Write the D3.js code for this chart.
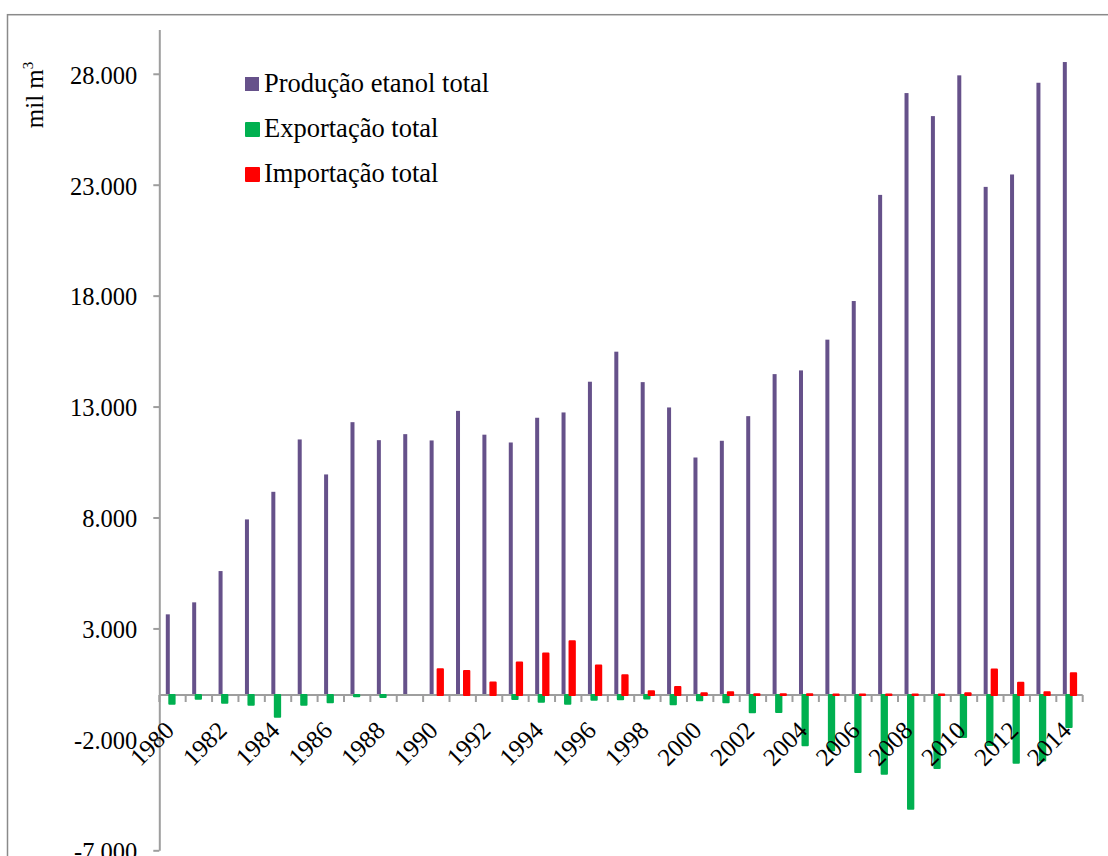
<!DOCTYPE html>
<html>
<head>
<meta charset="utf-8">
<script src="https://cdn.jsdelivr.net/npm/d3@7"></script>
<style>
  body { margin: 0; background: #fff; }
  svg { display: block; font-family: "Liberation Serif", "Times New Roman", serif; }
</style>
</head>
<body>
<div id="chart"></div>
<script>
const years = [1980, 1981, 1982, 1983, 1984, 1985, 1986, 1987, 1988, 1989,
  1990, 1991, 1992, 1993, 1994, 1995, 1996, 1997, 1998, 1999,
  2000, 2001, 2002, 2003, 2004, 2005, 2006, 2007, 2008, 2009,
  2010, 2011, 2012, 2013, 2014];
const xTickLabels = [1980, 1982, 1984, 1986, 1988, 1990, 1992, 1994, 1996, 1998,
  2000, 2002, 2004, 2006, 2008, 2010, 2012, 2014];
// mil m3
const producao = [3635, 4176, 5586, 7914, 9158, 11518, 9941, 12297, 11486, 11757,
  11473, 12806, 11733, 11381, 12496, 12735, 14120, 15474, 14102, 12960,
  10704, 11458, 12568, 14463, 14630, 16016, 17757, 22541, 27130, 26092,
  27929, 22902, 23461, 27595, 28529];
const exportacao = [-390, -165, -345, -435, -975, -435, -330, -60, -95, 0,
  0, 0, 0, -175, -300, -400, -210, -194, -162, -420,
  -239, -329, -780, -767, -2270, -2495, -3475, -3547, -5126, -3294,
  -1895, -2250, -3051, -2947, -1444];
const importacao = [0, 0, 0, 0, 0, 0, 0, 0, 0, 0,
  1160, 1083, 560, 1462, 1868, 2423, 1327, 889, 167, 361,
  77, 122, 32, 30, 30, 20, 20, 20, 20, 20,
  77, 1150, 555, 125, 979];
const yTicks = [-7000, -2000, 3000, 8000, 13000, 18000, 23000, 28000];
const seriesNames = ["Produção etanol total", "Exportação total", "Importação total"];
const seriesColors = ["#66518a", "#00b050", "#ff0000"];

const width = 1108, height = 856;
const plot = { l: 159.3, r: 1082.7, t: 29.4, b: 850.3 };
const axisColor = "#9e9e9e";

const locale = d3.formatLocale({ decimal: ",", thousands: ".", grouping: [3], currency: ["R$", ""], minus: "-" });
const fmt = locale.format(",d");

const svg = d3.select("#chart").append("svg").attr("width", width).attr("height", height);
svg.append("rect").attr("width", width).attr("height", height).attr("fill", "#fff");

// outer chart border (right and bottom fall outside the picture)
svg.append("rect")
  .attr("x", 7.5).attr("y", 14.7)
  .attr("width", 1200).attr("height", 1000)
  .attr("fill", "none").attr("stroke", "#8a8a8a").attr("stroke-width", 1.5);

const x = d3.scaleBand().domain(years).range([plot.l, plot.r]).paddingInner(0).paddingOuter(0);
const y = d3.scaleLinear().domain([-7000, 30000]).range([plot.b, plot.t]);
const y0 = y(0);

// y axis
const yAxis = d3.axisLeft(y).tickValues(yTicks).tickFormat(fmt).tickSize(6).tickSizeOuter(0).tickPadding(16);
const yAxis_g = svg.append("g").attr("transform", `translate(${plot.l},0)`).call(yAxis);
yAxis_g.select(".domain").attr("stroke", axisColor).attr("stroke-width", 2);
yAxis_g.selectAll(".tick line").attr("stroke", axisColor).attr("stroke-width", 2);
yAxis_g.selectAll(".tick text")
  .attr("font-family", "Liberation Serif, Times New Roman, serif")
  .attr("font-size", 24.5).attr("fill", "#000").attr("dy", "0.38em");

// y title
svg.append("text")
  .attr("transform", "translate(43,95) rotate(-90)")
  .attr("text-anchor", "middle")
  .attr("font-size", 25)
  .attr("fill", "#000")
  .call((t) => {
    t.append("tspan").text("mil m");
    t.append("tspan").attr("font-size", 15).attr("dy", -10).text("3");
  });

// bars
const barOffsets = { prod: 6.5, exp: 9, imp: 13.5 };
svg.append("g").selectAll("rect").data(years).enter().append("rect")
  .attr("x", (d) => x(d) + barOffsets.prod)
  .attr("width", 4)
  .attr("y", (d, i) => y(producao[i]))
  .attr("height", (d, i) => y0 - y(producao[i]))
  .attr("fill", seriesColors[0]);

const drawRounded = (values, offset, color) => {
  svg.append("g").selectAll("rect").data(years.filter((d, i) => values[i] !== 0)).enter().append("rect")
    .attr("x", (d) => x(d) + offset + 1)
    .attr("width", 5.3)
    .attr("y", (d) => Math.min(y0, y(values[years.indexOf(d)])))
    .attr("height", (d) => Math.max(0.5, Math.abs(y(values[years.indexOf(d)]) - y0)))
    .attr("fill", color)
    .attr("stroke", color)
    .attr("stroke-width", 2)
    .attr("stroke-linejoin", "round");
};

// x axis line and ticks
const xAxis_g = svg.append("g");
xAxis_g.append("line")
  .attr("x1", plot.l).attr("x2", plot.r)
  .attr("y1", y0).attr("y2", y0)
  .attr("stroke", axisColor).attr("stroke-width", 2);
xAxis_g.selectAll(".xt").data(years.map((d) => x(d)).concat([plot.r])).enter().append("line")
  .attr("class", "xt")
  .attr("x1", (d) => d).attr("x2", (d) => d)
  .attr("y1", y0).attr("y2", y0 + 7)
  .attr("stroke", axisColor).attr("stroke-width", 2);

drawRounded(exportacao, barOffsets.exp, seriesColors[1]);
drawRounded(importacao, barOffsets.imp, seriesColors[2]);

// x labels
svg.append("g").selectAll("text").data(xTickLabels).enter().append("text")
  .attr("transform", (d) => `translate(${x(d) + x.bandwidth() / 2 + 3},${y0 + 37}) rotate(-45)`)
  .attr("text-anchor", "end")
  .attr("font-size", 25)
  .attr("fill", "#000")
  .text((d) => d);

// legend
const legend = svg.append("g").selectAll("g").data(seriesNames).enter().append("g")
  .attr("transform", (d, i) => `translate(245,${84 + i * 45})`);
legend.append("rect")
  .attr("x", (d, i) => (i === 0 ? 0 : 1))
  .attr("y", (d, i) => (i === 0 ? -7 : -6))
  .attr("width", (d, i) => (i === 0 ? 14 : 13))
  .attr("height", (d, i) => (i === 0 ? 14 : 13))
  .attr("fill", (d, i) => seriesColors[i])
  .attr("stroke", (d, i) => (i === 0 ? "none" : seriesColors[i]))
  .attr("stroke-width", 2)
  .attr("stroke-linejoin", "round");
legend.append("text")
  .attr("x", 19)
  .attr("y", 8)
  .attr("font-size", 26.5)
  .attr("fill", "#000")
  .text((d) => d);
</script>
</body>
</html>
